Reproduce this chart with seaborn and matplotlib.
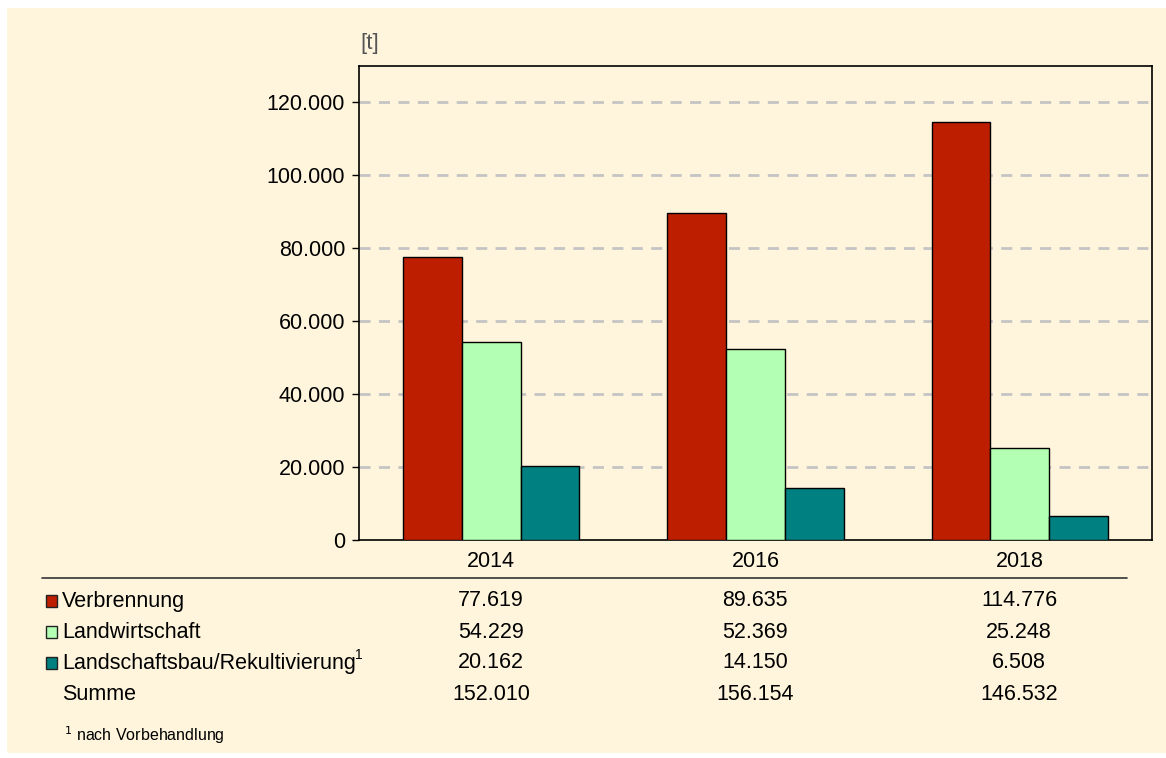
import matplotlib
matplotlib.use("Agg")
import matplotlib.pyplot as plt
import matplotlib.patches as mpatches
import pandas as pd
import seaborn as sns

years = ["2014", "2016", "2018"]
categories = ["Verbrennung", "Landwirtschaft", "Landschaftsbau/Rekultivierung"]
verbrennung = [77619, 89635, 114776]
landwirtschaft = [54229, 52369, 25248]
landschaftsbau = [20162, 14150, 6508]
colors = ["#BE1E00", "#B3FFB3", "#008080"]
yticks = [0, 20000, 40000, 60000, 80000, 100000, 120000]

sns.set_theme(style="white")
plt.rcParams["font.family"] = ["Liberation Sans", "DejaVu Sans"]

W, H = 1166, 758
cream = "#FEF5DC"
FS = 15.5
fig = plt.figure(figsize=(W / 100, H / 100), dpi=100)
fig.patch.set_facecolor("white")
fig.patches.append(mpatches.Rectangle((7 / W, 5 / H), 1 - 7 / W, 1 - 13 / H,
                                      transform=fig.transFigure, facecolor=cream,
                                      edgecolor="none", zorder=-5))


def fx(px):
    return px / W


def fy(py):
    return 1 - py / H


left, right, top, bottom = 359, 1152, 66, 540
ax = fig.add_axes([fx(left), fy(bottom), fx(right - left), (bottom - top) / H])
ax.set_zorder(2)
ax.set_facecolor(cream)

series = [verbrennung, landwirtschaft, landschaftsbau]
df = pd.DataFrame({
    "Jahr": [y for s in series for y in years],
    "Kategorie": [c for c, s in zip(categories, series) for _ in years],
    "Wert": [v for s in series for v in s],
})

sns.barplot(data=df, x="Jahr", y="Wert", hue="Kategorie", order=years,
            hue_order=categories, palette=colors, width=2 / 3,
            edgecolor="black", linewidth=1.0, saturation=1, ax=ax, legend=False, zorder=3)

ax.set_ylim(0, 130000)
ax.set_yticks(yticks)
ax.set_yticklabels([f"{v:,}".replace(",", ".") for v in yticks], fontsize=FS, color="black")
ax.set_xticks(range(len(years)))
ax.set_xticklabels(years, fontsize=FS, color="black")
ax.set_xlabel("")
ax.set_ylabel("")
ax.tick_params(axis="y", left=True, length=5, width=1, color="black", pad=5)
ax.tick_params(axis="x", bottom=False, pad=2)
for sp in ax.spines.values():
    sp.set_visible(True)
    sp.set_color("black")
    sp.set_linewidth(1.2)
for v in yticks[1:]:
    ax.axhline(v, color="#C4C4C4", linewidth=2, linestyle=(0, (4, 3)), zorder=1)

fig.text(fx(370), fy(43), "[t]", fontsize=16, color="#555555", ha="center", va="center")

# data table under the chart
line = plt.Line2D([fx(42), fx(1127)], [fy(578), fy(578)], transform=fig.transFigure,
                  color="#333333", linewidth=1.2)
fig.lines.append(line)

col_x = [491, 755, 1019]
row_y = [601, 632, 663, 694]
totals = [a + b + c for a, b, c in zip(verbrennung, landwirtschaft, landschaftsbau)]
rows = list(zip(categories, series, colors)) + [("Summe", totals, None)]


def fmt(v):
    return f"{v:,}".replace(",", ".")


for (label, vals, col), y in zip(rows, row_y):
    if col is not None:
        fig.patches.append(mpatches.Rectangle((fx(46), fy(y + 6)), 11 / W, 12 / H,
                                              transform=fig.transFigure, facecolor=col,
                                              edgecolor="#222222", linewidth=1, zorder=2))
    fig.text(fx(62), fy(y), label, fontsize=FS, ha="left", va="center", color="black")
    for x, v in zip(col_x, vals):
        fig.text(fx(x), fy(y), fmt(v), fontsize=FS, ha="center", va="center", color="black")

fig.text(fx(355), fy(655), "1", fontsize=10, ha="left", va="center", color="black")
fig.text(fx(64), fy(735), "$^{1}$ nach Vorbehandlung", fontsize=11.5, ha="left",
         va="center", color="black")

fig.savefig("out.png", dpi=100, facecolor=fig.get_facecolor())
